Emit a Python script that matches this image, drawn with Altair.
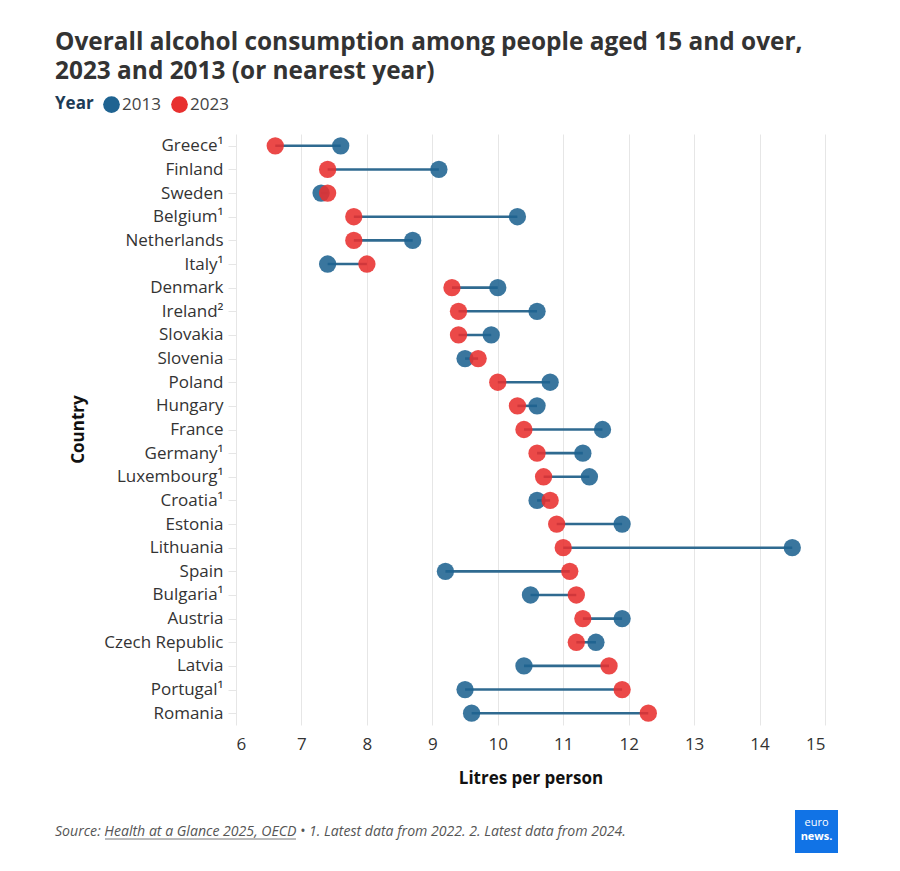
import altair as alt
import pandas as pd

# Countries in display order (ascending 2023 consumption)
countries = [
    "Greece¹", "Finland", "Sweden", "Belgium¹", "Netherlands", "Italy¹",
    "Denmark", "Ireland²", "Slovakia", "Slovenia", "Poland", "Hungary",
    "France", "Germany¹", "Luxembourg¹", "Croatia¹", "Estonia", "Lithuania",
    "Spain", "Bulgaria¹", "Austria", "Czech Republic", "Latvia", "Portugal¹",
    "Romania",
]
# Litres of pure alcohol per person aged 15+
values_2013 = [
    7.6, 9.1, 7.3, 10.3, 8.7, 7.4,
    10.0, 10.6, 9.9, 9.5, 10.8, 10.6,
    11.6, 11.3, 11.4, 10.6, 11.9, 14.5,
    9.2, 10.5, 11.9, 11.5, 10.4, 9.5,
    9.6,
]
values_2023 = [
    6.6, 7.4, 7.4, 7.8, 7.8, 8.0,
    9.3, 9.4, 9.4, 9.7, 10.0, 10.3,
    10.4, 10.6, 10.7, 10.8, 10.9, 11.0,
    11.1, 11.2, 11.3, 11.2, 11.7, 11.9,
    12.3,
]
years = ["2013", "2023"]
x_ticks = [6, 7, 8, 9, 10, 11, 12, 13, 14, 15]

BLUE = "#1f6391"
RED = "#e8302f"
LINE = "#2f6a90"
FONT = "Open Sans"

wide = pd.DataFrame({"Country": countries, "v2013": values_2013, "v2023": values_2023})
long = pd.concat([
    pd.DataFrame({"Country": countries, "Year": years[0], "Litres": values_2013}),
    pd.DataFrame({"Country": countries, "Year": years[1], "Litres": values_2023}),
], ignore_index=True)

x_scale = alt.Scale(domain=[6, 15], nice=False, zero=False)
y_scale = alt.Scale(type="point", padding=0.5)
y_axis = alt.Axis(
    title="Country", titleFont=FONT, titleFontSize=17, titleFontWeight="bold",
    titleColor="#111", titleX=-158, titleY=295, titleAngle=-90,
    titleAlign="center", titleBaseline="middle",
    labelFont=FONT, labelFontSize=17, labelColor="#333", labelPadding=5,
    ticks=True, tickColor="#e6e6e6", tickSize=8, domain=False, grid=False,
)

rules = alt.Chart(wide).mark_rule(color=LINE, strokeWidth=2.6).encode(
    x=alt.X("v2023:Q", scale=x_scale, axis=alt.Axis(
        values=x_ticks, format="d", title="Litres per person", titleFont=FONT,
        titleFontSize=17, titleFontWeight="bold", titleColor="#111",
        titleY=53, titleBaseline="middle",
        labelFont=FONT, labelFontSize=17, labelColor="#333", labelPadding=11,
        ticks=False, domain=False, grid=True, gridColor="#e6e6e6", gridWidth=1,
    )),
    x2="v2013:Q",
    y=alt.Y("Country:N", sort=countries, scale=y_scale, axis=y_axis),
)

dots = alt.Chart(long).mark_circle(size=300, opacity=0.88).encode(
    x=alt.X("Litres:Q", scale=x_scale),
    y=alt.Y("Country:N", sort=countries, scale=y_scale),
    color=alt.Color("Year:N", scale=alt.Scale(domain=years, range=[BLUE, RED]),
                    legend=alt.Legend(
                        title="Year", orient="none", legendX=-181, legendY=-38,
                        direction="horizontal", titleOrient="left",
                        titleFont=FONT, titleFontSize=17, titleFontWeight="bold",
                        titleColor="#1d3b55", titlePadding=9,
                        labelFont=FONT, labelFontSize=17, labelColor="#444",
                        labelOffset=2, columnPadding=10,
                        symbolType="circle", symbolSize=280, symbolOpacity=1,
                        symbolStrokeWidth=0,
                    )),
)

# Headline, footer and logo
def txt(s, x, y, size=13, weight="normal", style="normal", color="#333",
        align="left", baseline="alphabetic"):
    return alt.Chart(pd.DataFrame({"t": [s]})).mark_text(
        font=FONT, fontSize=size, fontWeight=weight, fontStyle=style,
        color=color, align=align, baseline=baseline,
    ).encode(text="t:N", x=alt.value(x), y=alt.value(y))

title1 = txt("Overall alcohol consumption among people aged 15 and over,",
             -181, -84, size=24.4, weight="bold", color="#333")
title2 = txt("2023 and 2013 (or nearest year)", -181, -55, size=24.4,
             weight="bold", color="#333")

footer = txt("Source: Health at a Glance 2025, OECD • 1. Latest data from 2022. "
             "2. Latest data from 2024.", -181, 702, size=14.1, style="italic",
             color="#555")
underline = alt.Chart(pd.DataFrame({"a": [0]})).mark_rule(
    color="#555", strokeWidth=0.8
).encode(x=alt.value(-131), x2=alt.value(60), y=alt.value(705))

logo = alt.Chart(pd.DataFrame({"a": [0]})).mark_rect(color="#1173e6").encode(
    x=alt.value(559), x2=alt.value(602), y=alt.value(676), y2=alt.value(719)
)
logo_t1 = txt("euro", 580.5, 692, size=11, color="white", align="center")
logo_t2 = txt("news.", 580.5, 706, size=11, weight="bold", color="white",
              align="center")

chart = alt.layer(
    rules, dots, title1, title2, footer, underline,
    logo, logo_t1, logo_t2,
).properties(
    width=589, height=591,
    autosize=alt.AutoSizeParams(type="none"),
    padding={"left": 236, "top": 134, "right": 75, "bottom": 146},
    background="white",
).configure_view(stroke=None)

chart.save("out.html", embed_options={"renderer": "svg", "actions": False})
